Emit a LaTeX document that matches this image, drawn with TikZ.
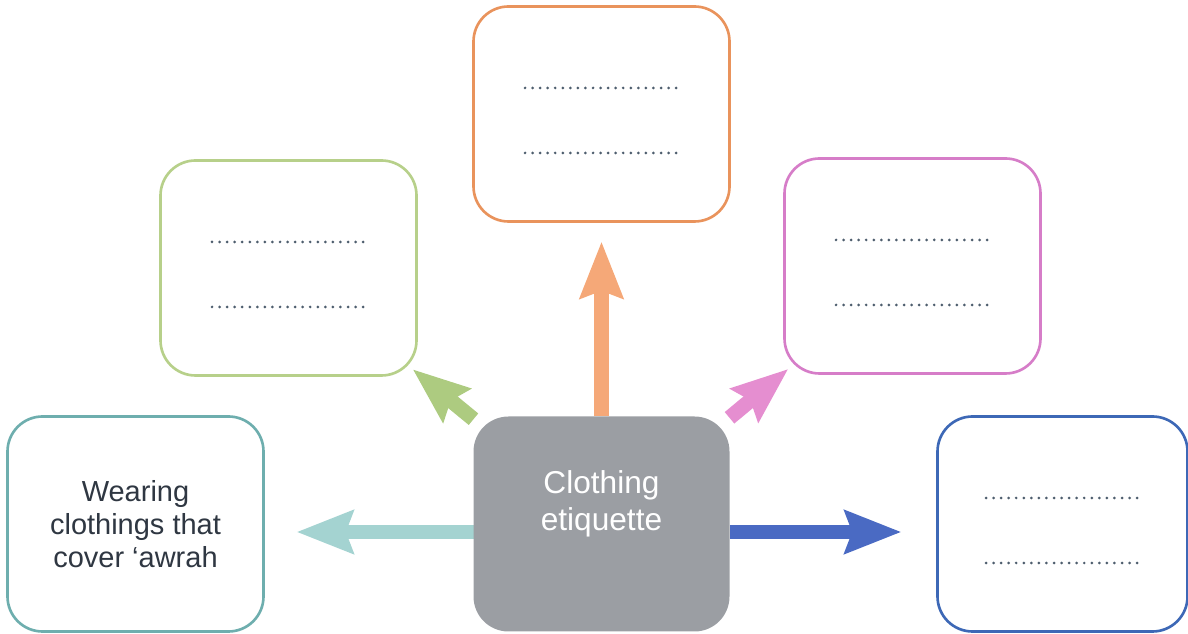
\documentclass[tikz,border=0pt]{standalone}
\usepackage{fontspec}
\setmainfont{Liberation Sans}
\usepackage{xcolor}
\usetikzlibrary{arrows.meta,positioning,backgrounds}
\definecolor{HubGray}{HTML}{9B9EA3}
\definecolor{InkDark}{HTML}{2F3742}
\definecolor{DotGray}{HTML}{4E5E6E}
\definecolor{BoxN}{HTML}{E9935C}
\definecolor{BoxNW}{HTML}{B7D08A}
\definecolor{BoxNE}{HTML}{D67DC8}
\definecolor{BoxW}{HTML}{6EAEAE}
\definecolor{BoxE}{HTML}{3D68B6}
\definecolor{ArrN}{HTML}{F5A878}
\definecolor{ArrNW}{HTML}{ADCB80}
\definecolor{ArrNE}{HTML}{E58ED0}
\definecolor{ArrW}{HTML}{A4D3D1}
\definecolor{ArrE}{HTML}{4A6AC3}

\begin{document}
\begin{tikzpicture}[
  card/.style={draw,line width=1.5pt,rounded corners=0.7cm,minimum width=5.12cm,minimum height=4.3cm,
    fill=white,outer sep=0pt,align=center,text=InkDark,font=\fontsize{16.5}{18.7}\selectfont},
  hub/.style={card,draw=none,fill=HubGray},
  hubtext/.style={align=center,text=white,font=\fontsize{18}{21}\selectfont},
  fat/.style={line width=8.5pt,-{Stealth[length=32pt,width=24pt,inset=4pt]}},
  blank/.style={line width=1.7pt,line cap=round,dash pattern=on 0pt off 4.3pt,draw=DotGray}
]
  \useasboundingbox (0,0) rectangle (23.76,12.68);

  \node[hub] (hub) at (12.03,2.2) {};
  \node[hubtext] (hublabel) at ([yshift=0.4cm]hub.center) {Clothing\\etiquette};

  \node[card,draw=BoxN, above=3.9cm of hub] (blankN) {};
  \node[card,draw=BoxNW, above left=0.82cm and 1.14cm of hub] (blankNW) {};
  \node[card,draw=BoxNE, above right=0.86cm and 1.1cm of hub] (blankNE) {};
  \node[card,draw=BoxW, left=4.2cm of hub] (cover) {Wearing\\clothings that\\cover ‘awrah};
  \node[card,draw=BoxE, minimum width=5cm, right=4.16cm of hub] (blankE) {};

  % answer lines
  \foreach \b in {blankN,blankNW,blankNE,blankE}{
    \draw[blank] ([shift={(-1.53,0.52)}]\b.center) -- ([shift={(1.53,0.52)}]\b.center);
    \draw[blank] ([shift={(-1.53,-0.78)}]\b.center) -- ([shift={(1.53,-0.78)}]\b.center);
  }

  \begin{scope}[on background layer]
    \draw[fat,ArrN,shorten >=0.4cm] (hub) -- (blankN);
    \draw[fat,ArrNW,shorten >=-0.1cm] (hub) -- (blankNW);
    \draw[fat,ArrNE,shorten >=-0.1cm] (hub) -- (blankNE);
    \draw[fat,ArrW,shorten >=0.66cm] ([yshift=-0.16cm]hub.west) -- ([yshift=-0.16cm]cover.east);
    \draw[fat,ArrE,shorten >=0.72cm] ([yshift=-0.16cm]hub.east) -- ([yshift=-0.16cm]blankE.west);
  \end{scope}
\end{tikzpicture}
\end{document}
